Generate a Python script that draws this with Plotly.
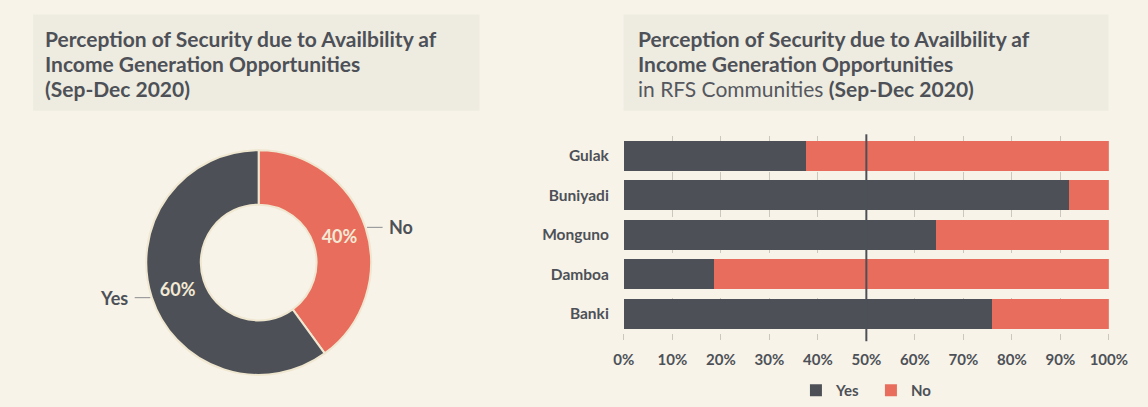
import math
import plotly.graph_objects as go

# ---------------- data ----------------
pie_labels = ["No", "Yes"]
pie_values = [40, 60]

communities = ["Gulak", "Buniyadi", "Monguno", "Damboa", "Banki"]
yes_pct = [37.5, 91.7, 64.4, 18.6, 76.0]
no_pct = [62.5, 8.3, 35.6, 81.4, 24.0]

x_ticks = [0, 10, 20, 30, 40, 50, 60, 70, 80, 90, 100]
x_tick_labels = ["0%", "10%", "20%", "30%", "40%", "50%", "60%", "70%", "80%", "90%", "100%"]
midline_value = 50

title_lines = [
    "<b>Perception of Security due to Availbility af</b>",
    "<b>Income Generation Opportunities</b>",
    "<b>(Sep-Dec 2020)</b>",
]
title_lines_right = [
    "<b>Perception of Security due to Availbility af</b>",
    "<b>Income Generation Opportunities</b>",
    "<span style='font-weight:400;fill:#55585E'>in RFS Communities</span> <b>(Sep-Dec 2020)</b>",
]

# ---------------- styles ----------------
W, H = 1148, 407
BG = "#F7F3E9"
BOX = "#EEEBE1"
DARK = "#4D5157"
SALMON = "#E96D5D"
CREAM = "#F3EAD6"
GRID = "#CBC7BD"
FONT = "Lato"

def px_x(v):
    return v / W

def px_y(v):
    return 1 - v / H

fig = go.Figure()

# donut geometry (pixels)
PCX, PCY, PR = 254.3, 269.8, 115.5
pie_dom_x = [px_x(PCX - PR), px_x(PCX + PR)]
pie_dom_y = [px_y(PCY + PR), px_y(PCY - PR)]

fig.add_trace(go.Pie(
    labels=pie_labels,
    values=pie_values,
    hole=0.515,
    sort=False,
    direction="clockwise",
    rotation=0,
    marker=dict(colors=[SALMON, DARK], line=dict(color="#F0E7D0", width=2)),
    textinfo="percent",
    texttemplate="%{percent:.0%}",
    textposition="inside",
    insidetextorientation="horizontal",
    textfont=dict(family=FONT, size=18, color=CREAM, weight="bold"),
    domain=dict(x=pie_dom_x, y=pie_dom_y),
    showlegend=False,
    hoverinfo="label+percent",
))

fig.add_trace(go.Bar(
    name="Yes", y=communities, x=yes_pct, orientation="h",
    marker=dict(color=DARK, line=dict(width=0)),
))
fig.add_trace(go.Bar(
    name="No", y=communities, x=no_pct, orientation="h",
    marker=dict(color=SALMON, line=dict(width=0)),
))

shapes = []
annotations = []

# title boxes
for (x0, x1) in [(22.7, 481), (629, 1127)]:
    shapes.append(dict(type="rect", xref="paper", yref="paper",
                       x0=px_x(x0), x1=px_x(x1), y0=px_y(113.7), y1=px_y(15),
                       fillcolor=BOX, line=dict(width=0), layer="below"))

line_ys = [39.3, 65.2, 91.2]
for xl, lines in [(33, title_lines), (641.5, title_lines_right)]:
    for ly, txt in zip(line_ys, lines):
        annotations.append(dict(text=txt, xref="paper", yref="paper",
                                x=px_x(xl), y=px_y(ly), xanchor="left", yanchor="middle",
                                showarrow=False,
                                font=dict(family=FONT, size=21, color=DARK)))

# donut outside labels with leader lines, derived from slice angles
total = sum(pie_values)
cum = 0
for lab, val in zip(pie_labels, pie_values):
    mid = (cum + val / 2) / total * 2 * math.pi
    cum += val
    sx = PCX + (PR + 1.5) * math.sin(mid)
    sy = PCY - (PR + 1.5) * math.cos(mid)
    side = 1 if math.sin(mid) >= 0 else -1
    ex = sx + side * 16
    shapes.append(dict(type="line", xref="paper", yref="paper",
                       x0=px_x(sx), x1=px_x(ex), y0=px_y(sy), y1=px_y(sy),
                       line=dict(color="#8A8C90", width=1)))
    annotations.append(dict(text=f"<b>{lab}</b>", xref="paper", yref="paper",
                            x=px_x(ex + side * 5), y=px_y(sy),
                            xanchor="left" if side > 0 else "right", yanchor="middle",
                            showarrow=False,
                            font=dict(family=FONT, size=18, color=DARK)))

# 50% reference line
shapes.append(dict(type="line", xref="x", yref="y domain",
                   x0=midline_value, x1=midline_value, y0=-0.04, y1=1.01,
                   line=dict(color=DARK, width=2), layer="above"))

fig.update_layout(
    width=W, height=H,
    margin=dict(l=0, r=0, t=0, b=0),
    paper_bgcolor=BG, plot_bgcolor="rgba(0,0,0,0)",
    barmode="stack", bargap=0.24,
    font=dict(family=FONT, color=DARK),
    shapes=shapes, annotations=annotations,
    xaxis=dict(domain=[px_x(629.3), px_x(1127.3)], range=[0, 100],
               tickvals=x_ticks, ticktext=x_tick_labels,
               showgrid=True, griddash="dash", gridcolor=GRID, gridwidth=1,
               zeroline=False, showline=False,
               ticks="outside", ticklen=6, tickcolor=GRID, ticklabelstandoff=7,
               tickfont=dict(family=FONT, size=15, color=DARK, weight="bold"),
               fixedrange=True),
    yaxis=dict(domain=[px_y(342.6), px_y(140.05)],
               categoryorder="array", categoryarray=communities, autorange="reversed",
               ticks="", showgrid=False, zeroline=False, showline=False,
               ticklabelstandoff=14,
               tickfont=dict(family=FONT, size=15.5, color=DARK, weight="bold"),
               fixedrange=True),
    legend=dict(orientation="h", x=px_x(806), y=px_y(401.7), xanchor="left", yanchor="middle",
                bgcolor="rgba(0,0,0,0)", traceorder="normal",
                entrywidth=30, entrywidthmode="pixels",
                font=dict(family=FONT, size=15, color=DARK, weight="bold")),
    showlegend=True,
)

page_css = (
    "var s=document.createElement('style');"
    "s.textContent='html,body{margin:0;padding:0;overflow:hidden;background:" + BG + "}';"
    "document.head.appendChild(s);"
)

fig.write_html(
    "out.html",
    config={"displayModeBar": False},
    post_script=page_css,
)
